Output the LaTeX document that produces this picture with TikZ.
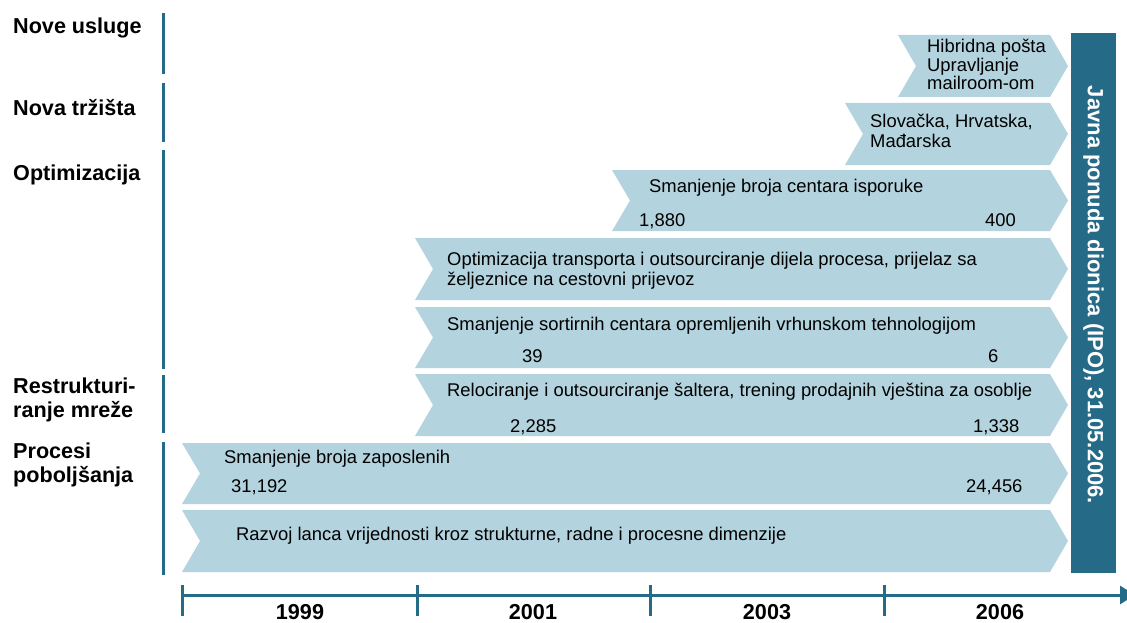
\documentclass[tikz,border=0pt]{standalone}
\usepackage{fontspec}
\setmainfont{Liberation Sans}
\usetikzlibrary{arrows.meta}
\definecolor{lightb}{HTML}{B3D3DE}
\definecolor{darkb}{HTML}{256A87}
\newcommand\chevshape[3]{%
  \fill[lightb] (#1,#2) -- (1050,#2) -- (1068,{(#2+#3)/2}) -- (1050,#3) -- (#1,#3) -- ({#1+18},{(#2+#3)/2}) -- cycle;}
\begin{document}
\begin{tikzpicture}[x=1pt,y=-1pt,
  txt/.style={anchor=base west,inner sep=0pt,font=\fontsize{18.4}{19}\selectfont},
  lbl/.style={anchor=base west,inner sep=0pt,font=\fontsize{21.6}{24}\selectfont\bfseries,align=left},
  yr/.style={anchor=base,inner sep=0pt,font=\fontsize{21.6}{24}\selectfont\bfseries},
  sep/.style={draw=darkb,line width=3pt},
  axis/.style={draw=darkb,line width=3pt}]
\useasboundingbox (0,0) rectangle (1127,623);
% left labels
\node[lbl] (l1) at (13,34) {Nove usluge};
\node[lbl] (l2) at (13,116) {Nova tržišta};
\node[lbl] (l3) at (13,180) {Optimizacija};
\node[lbl] (l4a) at (13,393) {Restrukturi-};
\node[lbl] (l4b) at (13,417) {ranje mreže};
\node[lbl] (l5a) at (13,458) {Procesi};
\node[lbl] (l5b) at (13,482) {poboljšanja};
% separators
\draw[sep] (163,13) -- (163,74);
\draw[sep] (163,83) -- (163,142);
\draw[sep] (163,150) -- (163,369);
\draw[sep] (163,375) -- (163,433);
\draw[sep] (163,442) -- (163,575);
% chevrons
\chevshape{898}{35}{97}
\chevshape{845}{103}{165}
\chevshape{612}{170}{231}
\chevshape{415}{238}{300}
\chevshape{415}{307}{368}
\chevshape{415}{374}{436}
\chevshape{182}{443}{504}
\chevshape{182}{510}{572}
% chevron texts
\node[txt] (t1a) at (927,53) {Hibridna pošta};
\node[txt] (t1b) at (927,71.5) {Upravljanje};
\node[txt] (t1c) at (927,90) {mailroom-om};
\node[txt] (t2a) at (870,128) {Slovačka, Hrvatska,};
\node[txt] (t2b) at (870,147) {Mađarska};
\node[txt] (t3) at (649,193) {Smanjenje broja centara isporuke};
\node[txt] (t3a) at (639,226) {1,880};
\node[txt] (t3b) at (985,226) {400};
\node[txt] (t4a) at (447,265) {Optimizacija transporta i outsourciranje dijela procesa, prijelaz sa};
\node[txt] (t4b) at (447,285) {željeznice na cestovni prijevoz};
\node[txt] (t5) at (447,330) {Smanjenje sortirnih centara opremljenih vrhunskom tehnologijom};
\node[txt] (t5a) at (522,362) {39};
\node[txt] (t5b) at (988,362) {6};
\node[txt] (t6) at (447,396) {Relociranje i outsourciranje šaltera, trening prodajnih vještina za osoblje};
\node[txt] (t6a) at (510,432) {2,285};
\node[txt] (t6b) at (973,432) {1,338};
\node[txt] (t7) at (224,463) {Smanjenje broja zaposlenih};
\node[txt] (t7a) at (231,492) {31,192};
\node[txt] (t7b) at (966,492) {24,456};
\node[txt] (t8) at (236,540) {Razvoj lanca vrijednosti kroz strukturne, radne i procesne dimenzije};
% IPO bar
\fill[darkb] (1071,33) rectangle (1116,573);
\node[rotate=-90,text=white,font=\fontsize{22}{24}\selectfont\bfseries,inner sep=0pt] (ipo) at (1093.5,295) {Javna ponuda dionica (IPO), 31.05.2006.};
% timeline
\coordinate (a0) at (182,595);
\coordinate (a1) at (1135,595);
\draw[axis,-{Triangle[length=15pt,width=18pt]}] (a0) -- (a1);
\foreach \x/\n in {182/k1,417/k2,650/k3,884/k4} {
  \draw[axis] (\x,585) -- (\x,616);
}
\node[yr] (y1) at (300,619) {1999};
\node[yr] (y2) at (533,619) {2001};
\node[yr] (y3) at (767,619) {2003};
\node[yr] (y4) at (1000,619) {2006};
\end{tikzpicture}
\end{document}
